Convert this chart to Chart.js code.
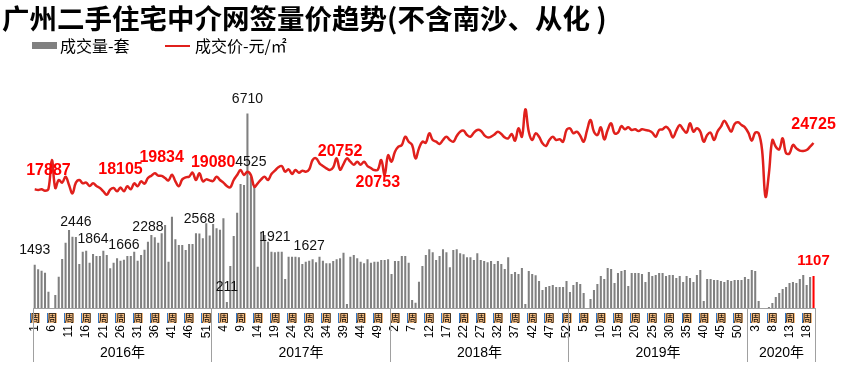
<!DOCTYPE html>
<html>
<head>
<meta charset="utf-8">
<title>广州二手住宅中介网签量价趋势</title>
<script src="https://cdn.jsdelivr.net/npm/chart.js"></script>
<style>
  body { margin: 0; background: #fff; }
</style>
</head>
<body>
<canvas id="myChart" width="845" height="369"></canvas>
<script>
var years = ['2016年', '2017年', '2018年', '2019年', '2020年'];
var weeksPerYear = [52, 52, 52, 52, 20];

// 成交量-套, weekly
var volume2016 = [1493,1334,1288,1219,563,0,449,1081,1691,2254,
                  2691,2460,2446,1518,1944,1978,1564,1864,1794,1794,
                  1978,1829,1369,1564,1714,1633,1666,1794,1794,1944,
                  1633,1829,2012,2288,2519,2438,2254,2576,2864,1599,
                  3151,2369,2174,2174,2001,2208,2208,2576,2568,2404,
                  2921,2500];
var volume2017 = [2900,2750,2700,3100,211,1449,2484,3289,4278,4243,
                  6710,4525,4186,1426,2634,2519,2289,1944,1921,1944,
                  1944,1000,1771,1771,1771,1750,1518,1599,1627,1679,
                  1576,1771,1633,1541,1541,1622,1679,1714,1909,138,
                  1771,1829,1714,1599,1541,1679,1564,1599,1599,1656,
                  1656,1679];
var volume2018 = [1173,1622,1622,1794,1794,1564,276,184,909,1449,
                  1829,2024,1921,1656,1794,2024,1921,1403,2001,2024,
                  1886,1852,1748,1748,1656,1886,1656,1622,1576,1622,
                  1518,1622,1518,1346,1748,1173,1242,1173,1380,138,
                  1277,1173,1127,932,621,725,759,794,725,725,
                  725,932];
var volume2019 = [552,794,897,828,518,0,311,621,828,1104,
                  1000,1380,1346,863,1208,1277,1311,759,1208,1208,
                  1208,1173,897,1242,1104,1139,1208,1208,1104,1139,
                  1139,1035,1104,897,1104,1035,897,1139,1311,242,
                  1000,1000,966,966,932,897,966,932,966,966,
                  966,1070];
var volume2020 = [1000,1311,1277,242,0,0,35,172,380,518,
                  656,725,863,897,863,1000,1139,794,1070,1107];

// 成交价-元/㎡, weekly
var price2016 = [17840,17740,17840,17640,17887,22200,18040,19225,18830,19720,
                 18480,17240,18830,19225,18735,18830,18340,18735,18340,18040,
                 17540,17040,17790,18040,17540,18105,17540,18290,17840,18735,
                 18290,19030,18680,19520,19870,20220,19870,19834,19520,19175,
                 20020,19030,18290,19320,19620,19720,20320,19225,20220,19030,
                 19320,19175];
var price2017 = [19080,19717,19225,18830,18330,18130,19225,19968,20711,19968,
                 20460,19968,18230,18735,19320,19717,19225,20120,20610,21110,
                 21300,20460,20810,20120,20711,20320,20610,20460,20810,22198,
                 22450,21707,21300,20963,20711,21110,22450,20752,21600,22450,
                 21950,21500,21950,21500,21950,21300,21000,20700,20753,22200,
                 20000,22900];
var price2018 = [21950,23435,24175,24430,25660,24920,24430,22450,23930,24920,
                 24760,26165,25170,24920,24580,25170,25660,25170,24920,25760,
                 26410,26553,25910,25660,26260,26657,26553,25910,25560,25660,
                 26000,26410,26060,25560,25410,26060,25070,26900,25660,29735,
                 26410,25170,26165,25660,24680,24280,25170,25660,25170,25270,
                 24920,26657];
var price2019 = [26900,26165,26410,25800,24920,26657,28144,26410,25910,27050,
                 25270,26657,27650,26165,26260,27250,26760,27050,26657,26760,
                 26510,26760,26657,26553,26260,25660,26657,26760,27150,26657,
                 25560,26553,27400,26760,26260,27650,26410,26900,26410,24920,
                 25910,26260,25170,26410,27150,28050,27250,26410,27550,27800,
                 27400,27050];
var price2020 = [26260,25070,26260,26165,23685,16743,20220,25170,24175,23780,
                 25410,23190,23190,24430,23930,23590,23540,23685,24175,24725];

var volume = volume2016.concat(volume2017, volume2018, volume2019, volume2020);
var price = price2016.concat(price2017, price2018, price2019, price2020);

// points that carry a value label
var priceLabelIdx = [4, 25, 37, 52, 89, 100, 227];
var priceLabelBelow = [100];
var volumeLabelIdx = [0, 12, 17, 26, 33, 48, 56, 62, 63, 70, 80, 227];

var weeks = [];
weeksPerYear.forEach(function (n) {
    for (var w = 1; w <= n; w++) weeks.push(String(w));
});

var lineColor = '#e0201c';
var barColor = '#808080';
var lastColor = '#ff0000';
var cjk = '"Noto Sans CJK SC"';
var latin = '"Liberation Sans", "Noto Sans CJK SC"';

var headerPlugin = {
    id: 'header',
    afterDraw: function (chart) {
        var ctx = chart.ctx;
        ctx.save();
        ctx.textBaseline = 'middle';
        ctx.textAlign = 'left';
        ctx.fillStyle = '#000';
        ctx.font = 'bold 27.5px ' + cjk;
        ctx.fillText('广州二手住宅中介网签量价趋势(不含南沙、从化 )', 2, 19);

        ctx.font = '16px ' + cjk;
        ctx.fillStyle = barColor;
        ctx.fillRect(32, 42, 25, 7);
        ctx.fillStyle = '#000';
        ctx.fillText(chart.data.datasets[0].label, 60, 46);
        ctx.strokeStyle = lineColor;
        ctx.lineWidth = 2;
        ctx.beginPath();
        ctx.moveTo(165, 46);
        ctx.lineTo(190, 46);
        ctx.stroke();
        ctx.fillText(chart.data.datasets[1].label, 195, 46);
        ctx.restore();
    }
};

var yearAxisPlugin = {
    id: 'yearAxis',
    afterDraw: function (chart) {
        var ctx = chart.ctx, xs = chart.scales.x, area = chart.chartArea;
        var half = (xs.getPixelForValue(1) - xs.getPixelForValue(0)) / 2;
        ctx.save();
        // 周 boxes on top of the week numbers
        ctx.font = '10px ' + cjk;
        ctx.textAlign = 'center';
        ctx.textBaseline = 'middle';
        for (var i = 0; i < weeks.length; i += 5) {
            var px = xs.getPixelForValue(i);
            ctx.fillStyle = 'rgba(243,172,100,0.8)';
            ctx.fillRect(Math.round(px - 5), area.bottom + 5, 10, 10);
            ctx.fillStyle = '#2f76c8';
            ctx.fillRect(Math.round(px - 5), area.bottom + 5, 1, 10);
            ctx.fillStyle = '#000';
            ctx.fillText('周', px + 0.5, area.bottom + 10);
        }
        // year separators and names
        ctx.strokeStyle = '#a0a0a0';
        ctx.lineWidth = 1;
        ctx.font = '14px ' + latin;
        var start = 0;
        var edges = [Math.round(xs.getPixelForValue(0) - half) + 0.5];
        weeksPerYear.forEach(function (n, k) {
            var end = start + n - 1;
            var right = Math.round(xs.getPixelForValue(end) + half) + 0.5;
            edges.push(right);
            var left = edges[k];
            ctx.fillText(years[k], (left + right) / 2, area.bottom + 45);
            start += n;
        });
        edges.forEach(function (ex) {
            ctx.beginPath();
            ctx.moveTo(ex, area.bottom);
            ctx.lineTo(ex, area.bottom + 54);
            ctx.stroke();
        });
        ctx.restore();
    }
};

var valueLabelPlugin = {
    id: 'valueLabels',
    afterDatasetsDraw: function (chart) {
        var ctx = chart.ctx;
        var bars = chart.getDatasetMeta(0).data;
        var pts = chart.getDatasetMeta(1).data;
        var last = volume.length - 1;
        ctx.save();
        ctx.textAlign = 'center';
        ctx.textBaseline = 'alphabetic';
        volumeLabelIdx.forEach(function (i) {
            var b = bars[i];
            if (i === last) {
                ctx.font = 'bold 15px ' + latin;
                ctx.fillStyle = lastColor;
            } else {
                ctx.font = '14px ' + latin;
                ctx.fillStyle = '#111';
            }
            ctx.fillText(String(volume[i]), b.x, b.y - 11);
        });
        ctx.font = 'bold 16px ' + latin;
        ctx.fillStyle = '#ff0000';
        priceLabelIdx.forEach(function (i) {
            var p = pts[i];
            var y = priceLabelBelow.indexOf(i) >= 0 ? p.y + 17 : p.y - 14;
            ctx.fillText(String(price[i]), p.x, y);
        });
        ctx.restore();
    }
};

new Chart(document.getElementById('myChart'), {
    type: 'bar',
    data: {
        labels: weeks,
        datasets: [
            {
                type: 'bar',
                label: '成交量-套',
                data: volume,
                yAxisID: 'y',
                backgroundColor: function (c) {
                    return c.dataIndex === volume.length - 1 ? lastColor : barColor;
                },
                barPercentage: 0.6,
                categoryPercentage: 1.0,
                order: 2
            },
            {
                type: 'line',
                label: '成交价-元/㎡',
                data: price,
                yAxisID: 'y1',
                borderColor: lineColor,
                borderWidth: 2.5,
                pointRadius: 0,
                tension: 0.4,
                fill: false,
                order: 1
            }
        ]
    },
    options: {
        responsive: false,
        animation: false,
        layout: { padding: { left: 33, right: 29, top: 60, bottom: 0 } },
        plugins: {
            legend: { display: false },
            tooltip: { enabled: false }
        },
        scales: {
            x: {
                grid: { display: false, drawTicks: false },
                border: { display: true, color: '#a0a0a0' },
                ticks: {
                    autoSkip: false,
                    minRotation: 90,
                    maxRotation: 90,
                    padding: 17,
                    color: '#000',
                    font: { family: 'Liberation Sans', size: 12 },
                    callback: function (value, index) {
                        return index % 5 === 0 ? this.getLabelForValue(value) : '';
                    }
                },
                afterFit: function (scale) { scale.height = 61; }
            },
            y: { display: false, min: 0, max: 8556 },
            y1: { display: false, min: 200, max: 37063 }
        }
    },
    plugins: [headerPlugin, yearAxisPlugin, valueLabelPlugin]
});
</script>
</body>
</html>
